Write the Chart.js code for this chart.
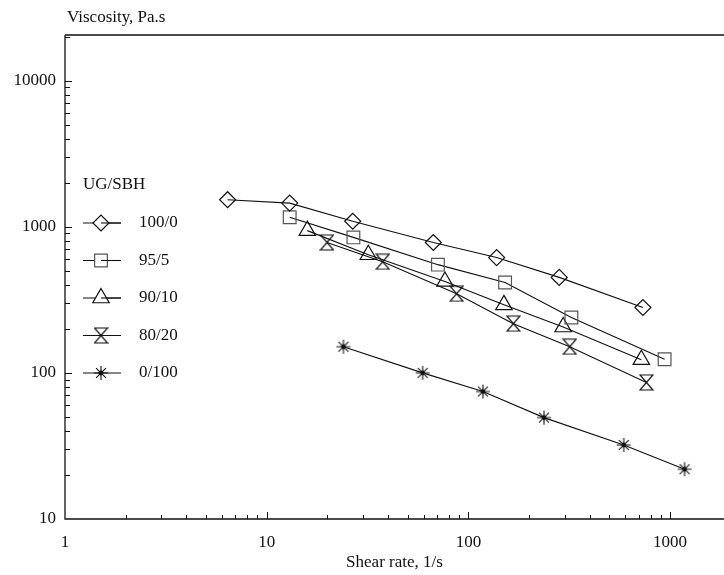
<!DOCTYPE html>
<html>
<head>
<meta charset="utf-8">
<script src="https://cdn.jsdelivr.net/npm/chart.js@4.4.1/dist/chart.umd.min.js"></script>
<style>
  html, body { margin: 0; padding: 0; background: #fff; }
  #wrap { width: 724px; height: 575px; }
</style>
</head>
<body>
<div id="wrap"><canvas id="myChart" width="724" height="575"></canvas></div>
<script>
// Shear rate (1/s) and viscosity (Pa.s) for each UG/SBH blend
const seriesLabels = ['100/0', '95/5', '90/10', '80/20', '0/100']

const shear100_0 = [6.4, 13.0, 26.7, 67, 138, 282, 733]
const visc100_0 = [1530, 1450, 1090, 780, 615, 450, 280]

const shear95_5 = [13.0, 26.9, 70.6, 152, 324, 939]
const visc95_5 = [1160, 845, 550, 415, 239, 124]

const shear90_10 = [15.9, 31.9, 76.5, 150, 295, 720]
const visc90_10 = [940, 643, 422, 292, 206, 123]

const shear80_20 = [19.9, 37.6, 87.4, 167, 318, 763]
const visc80_20 = [781, 576, 348, 217, 151, 86]

const shear0_100 = [24.0, 59.3, 118, 237, 589, 1180]
const visc0_100 = [151, 100, 74.5, 49.4, 32.1, 21.9]

const xTickLabels = [1, 10, 100, 1000]
const yTickLabels = [10, 100, 1000, 10000]

const FONT = '"Liberation Serif", "DejaVu Serif", serif'
const INK = '#111'

const toPoints = (xs, ys) => xs.map((x, i) => ({ x: x, y: ys[i] }))

// hourglass marker (two triangles tip to tip)
const makeHourglass = (w, h) => {
  const c = document.createElement('canvas')
  c.width = w + 2
  c.height = h + 2
  const g = c.getContext('2d')
  g.strokeStyle = INK
  g.lineWidth = 1.2
  g.beginPath()
  g.moveTo(1, 1)
  g.lineTo(w + 1, 1)
  g.lineTo(1, h + 1)
  g.lineTo(w + 1, h + 1)
  g.closePath()
  g.stroke()
  return c
}

// asterisk marker with a dot in the middle
const makeStar = (r) => {
  const s = r * 2 + 2
  const c = document.createElement('canvas')
  c.width = s
  c.height = s
  const g = c.getContext('2d')
  const m = s / 2
  g.strokeStyle = INK
  g.lineWidth = 1.1
  g.beginPath()
  for (let k = 0; k < 4; k++) {
    const a = k * Math.PI / 4
    g.moveTo(m - Math.cos(a) * r, m - Math.sin(a) * r)
    g.lineTo(m + Math.cos(a) * r, m + Math.sin(a) * r)
  }
  g.stroke()
  g.fillStyle = INK
  g.beginPath()
  g.arc(m, m, 2.4, 0, Math.PI * 2)
  g.fill()
  return c
}

const hourglass = makeHourglass(13, 15)
const star = makeStar(7)

const styles = [
  { pointStyle: 'rectRot', radius: 8, color: INK },
  { pointStyle: 'rect', radius: 9, color: '#555' },
  { pointStyle: 'triangle', radius: 9.5, color: INK },
  { pointStyle: hourglass, radius: 8, color: INK },
  { pointStyle: star, radius: 8, color: INK }
]

const seriesData = [
  toPoints(shear100_0, visc100_0),
  toPoints(shear95_5, visc95_5),
  toPoints(shear90_10, visc90_10),
  toPoints(shear80_20, visc80_20),
  toPoints(shear0_100, visc0_100)
]

const datasets = seriesData.map((d, i) => ({
  label: seriesLabels[i],
  data: d,
  showLine: true,
  borderColor: INK,
  borderWidth: 1.1,
  tension: 0,
  pointStyle: styles[i].pointStyle,
  pointRadius: styles[i].radius,
  pointBorderColor: styles[i].color,
  pointBackgroundColor: 'rgba(255,255,255,0)',
  pointBorderWidth: 1.2
}))

const isPow10 = (v) => Math.abs(Math.log10(v) - Math.round(Math.log10(v))) < 1e-9

// axes, inward ticks, titles and the legend box
const decorations = {
  id: 'decorations',
  afterDraw(chart) {
    const ctx = chart.ctx
    const a = chart.chartArea
    const xs = chart.scales.x
    const ys = chart.scales.y
    ctx.save()
    ctx.strokeStyle = INK
    ctx.lineWidth = 1.3
    ctx.beginPath()
    ctx.moveTo(a.left, a.top)
    ctx.lineTo(a.right, a.top)
    ctx.moveTo(a.left, a.top)
    ctx.lineTo(a.left, a.bottom)
    ctx.lineTo(a.right, a.bottom)
    ctx.stroke()

    ctx.lineWidth = 1
    ctx.beginPath()
    for (let d = 1; d <= 10000; d *= 10) {
      for (let m = 1; m < 10; m++) {
        const v = m * d
        if (v > ys.min && v < ys.max) {
          const py = Math.round(ys.getPixelForValue(v)) + 0.5
          ctx.moveTo(a.left, py)
          ctx.lineTo(a.left + (m === 1 ? 7 : 5), py)
        }
        if (v > xs.min && v < xs.max) {
          const px = Math.round(xs.getPixelForValue(v)) + 0.5
          ctx.moveTo(px, a.bottom)
          ctx.lineTo(px, a.bottom - (m === 1 ? 7 : 4))
        }
      }
    }
    ctx.stroke()

    ctx.fillStyle = INK
    ctx.font = '17px ' + FONT
    ctx.textBaseline = 'middle'
    ctx.textAlign = 'left'
    ctx.fillText('Viscosity, Pa.s', a.left + 2, 18)
    ctx.textAlign = 'center'
    ctx.fillText('Shear rate, 1/s', (a.left + a.right) / 2, 563)

    // legend
    const lx = a.left + 18
    ctx.textAlign = 'left'
    ctx.fillText('UG/SBH', lx, a.top + 150)
    seriesLabels.forEach((lab, i) => {
      const y = a.top + 188 + i * 37.5
      ctx.strokeStyle = INK
      ctx.lineWidth = 1.1
      ctx.beginPath()
      ctx.moveTo(lx, y)
      ctx.lineTo(lx + 38, y)
      ctx.stroke()
      ctx.strokeStyle = styles[i].color
      ctx.fillStyle = '#fff'
      ctx.lineWidth = 1.2
      Chart.helpers.drawPoint(ctx, {
        pointStyle: styles[i].pointStyle,
        radius: styles[i].radius,
        rotation: 0,
        borderWidth: 1.2
      }, lx + 18, y)
      if (typeof styles[i].pointStyle === 'string') {
        // redraw the line through hollow markers, as in the reference
        ctx.strokeStyle = INK
        ctx.lineWidth = 1.1
        ctx.beginPath()
        ctx.moveTo(lx + 18, y)
        ctx.lineTo(lx + 38, y)
        ctx.stroke()
      }
      ctx.fillStyle = INK
      ctx.fillText(lab, lx + 56, y)
    })
    ctx.restore()
  }
}

const config = {
  type: 'scatter',
  data: { datasets: datasets },
  options: {
    responsive: false,
    animation: false,
    layout: { autoPadding: false, padding: { top: 35, right: 0, left: 0, bottom: 0 } },
    plugins: {
      legend: { display: false },
      tooltip: { enabled: false }
    },
    scales: {
      x: {
        type: 'logarithmic',
        min: 1,
        max: 1850,
        afterFit: (s) => { s.height = 56; s.paddingRight = 0; s.paddingLeft = 0 },
        grid: { display: false, drawTicks: false },
        border: { display: false },
        ticks: {
          autoSkip: false,
          maxRotation: 0,
          padding: 13,
          color: INK,
          font: { family: FONT, size: 17 },
          callback: (v) => (isPow10(v) && xTickLabels.includes(Math.round(v)) ? String(Math.round(v)) : '')
        }
      },
      y: {
        type: 'logarithmic',
        min: 10,
        max: 20500,
        afterFit: (s) => { s.width = 65; s.paddingTop = 0; s.paddingBottom = 0 },
        grid: { display: false, drawTicks: false },
        border: { display: false },
        ticks: {
          autoSkip: false,
          padding: 9,
          color: INK,
          font: { family: FONT, size: 17 },
          callback: (v) => (isPow10(v) && yTickLabels.includes(Math.round(v)) ? String(Math.round(v)) : '')
        }
      }
    }
  },
  plugins: [decorations]
}

new Chart(document.getElementById('myChart'), config)
</script>
</body>
</html>
